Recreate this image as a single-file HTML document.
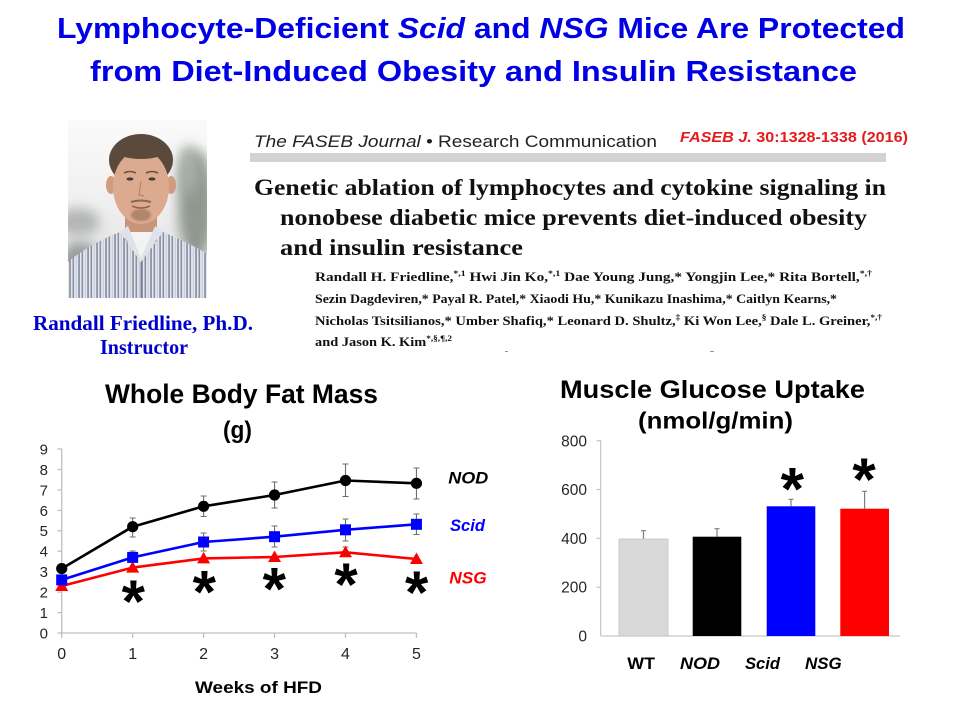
<!DOCTYPE html>
<html>
<head>
<meta charset="utf-8">
<style>
  html,body{margin:0;padding:0;background:#fff;}
  body{width:960px;height:720px;overflow:hidden;}
  svg{display:block;}
  .sans{font-family:"Liberation Sans",Arial,sans-serif;}
  .serif{font-family:"Liberation Serif","Times New Roman",serif;}
</style>
</head>
<body>
<svg width="960" height="720" viewBox="0 0 960 720" xmlns="http://www.w3.org/2000/svg">
  <defs>
    <clipPath id="photoClip"><rect x="68" y="120" width="139" height="178"/></clipPath>
    <filter id="blur6" x="-50%" y="-50%" width="200%" height="200%"><feGaussianBlur stdDeviation="6"/></filter>
    <filter id="blur1" x="-20%" y="-20%" width="140%" height="140%"><feGaussianBlur stdDeviation="1"/></filter>
    <pattern id="stripes" width="9" height="10" patternUnits="userSpaceOnUse">
      <rect width="9" height="10" fill="#e4e6ec"/>
      <rect x="0.5" width="1.6" height="10" fill="#8a91a6"/>
      <rect x="3.8" width="1" height="10" fill="#c3c8d6"/>
      <rect x="6.4" width="1.3" height="10" fill="#6d7690"/>
    </pattern>
    <linearGradient id="bgGrad" x1="0" y1="0" x2="0" y2="1">
      <stop offset="0" stop-color="#fafafa"/>
      <stop offset="0.5" stop-color="#efefef"/>
      <stop offset="1" stop-color="#d8d8d8"/>
    </linearGradient>
  </defs>

  <rect width="960" height="720" fill="#fff"/>

  <!-- Main title -->
  <g class="sans" font-weight="bold" fill="#0000e6" font-size="29">
    <text x="57" y="38" textLength="848" lengthAdjust="spacingAndGlyphs">Lymphocyte-Deficient <tspan font-style="italic">Scid</tspan> and <tspan font-style="italic">NSG</tspan> Mice Are Protected</text>
    <text x="90" y="81" textLength="767" lengthAdjust="spacingAndGlyphs">from Diet-Induced Obesity and Insulin Resistance</text>
  </g>

  <!-- Photo -->
  <g clip-path="url(#photoClip)">
    <rect x="68" y="120" width="139" height="178" fill="url(#bgGrad)"/>
    <ellipse cx="78" cy="222" rx="22" ry="14" fill="#b4b6b6" filter="url(#blur6)"/>
    <ellipse cx="196" cy="205" rx="18" ry="55" fill="#8f978f" filter="url(#blur6)"/>
    <ellipse cx="188" cy="170" rx="10" ry="25" fill="#a7ada7" filter="url(#blur6)"/>
    <ellipse cx="80" cy="262" rx="20" ry="20" fill="#9a9c9c" filter="url(#blur6)"/>
    <!-- neck -->
    <rect x="125" y="198" width="32" height="44" fill="#c8957a"/>
    <!-- hair -->
    <ellipse cx="141" cy="160" rx="32" ry="26" fill="#5b4a3c"/>
    <!-- ears -->
    <ellipse cx="111" cy="185" rx="5" ry="9" fill="#cf9c80"/>
    <ellipse cx="171" cy="185" rx="5" ry="9" fill="#cf9c80"/>
    <!-- face -->
    <ellipse cx="141" cy="187" rx="28" ry="37" fill="#dcab8f"/>
    <ellipse cx="141" cy="151" rx="25" ry="8" fill="#5b4a3c"/>
    <!-- features -->
    <path d="M124,173 Q130,170 136,173" stroke="#6a5242" stroke-width="1.6" fill="none"/>
    <path d="M146,173 Q152,170 158,173" stroke="#6a5242" stroke-width="1.6" fill="none"/>
    <ellipse cx="130" cy="179" rx="3.5" ry="1.6" fill="#4a3a30"/>
    <ellipse cx="152" cy="179" rx="3.5" ry="1.6" fill="#4a3a30"/>
    <path d="M141,181 L139,195 L144,196" stroke="#b88468" stroke-width="1.2" fill="none"/>
    <path d="M131,202 Q141,199 151,202" stroke="#8a6552" stroke-width="2" fill="none"/>
    <path d="M132,206 Q141,210 150,206" stroke="#9b5c50" stroke-width="1.6" fill="none"/>
    <ellipse cx="141" cy="215" rx="10" ry="6" fill="#9c7560" opacity="0.7" filter="url(#blur1)"/>
    <!-- shirt -->
    <path d="M68,298 L68,262 C82,250 100,240 120,232 L141,262 L163,232 C182,240 198,248 207,254 L207,298 Z" fill="url(#stripes)"/>
    <path d="M127,232 L141,258 L155,232 Z" fill="#f3f3f1"/>
    <path d="M120,232 L128,226 L141,258 Z" fill="#dfe2ea"/>
    <path d="M163,232 L155,226 L141,258 Z" fill="#dfe2ea"/>
    <line x1="141" y1="262" x2="141" y2="298" stroke="#7c849a" stroke-width="1"/>
  </g>

  <!-- Name -->
  <g class="serif" font-weight="bold" fill="#0000cc" font-size="21">
    <text x="33" y="330" textLength="220" lengthAdjust="spacingAndGlyphs">Randall Friedline, Ph.D.</text>
    <text x="100" y="354" textLength="88" lengthAdjust="spacingAndGlyphs">Instructor</text>
  </g>

  <!-- Journal header -->
  <text class="sans" x="254" y="147" font-size="17" fill="#222" textLength="403" lengthAdjust="spacingAndGlyphs"><tspan font-style="italic">The FASEB Journal</tspan>  •  Research Communication</text>
  <text class="sans" x="680" y="142" font-size="15" font-weight="bold" fill="#e41b1b" textLength="228" lengthAdjust="spacingAndGlyphs"><tspan font-style="italic">FASEB J.</tspan> 30:1328-1338 (2016)</text>
  <rect x="250" y="153" width="636" height="9" fill="#d3d3d3"/>

  <!-- Article title -->
  <g class="serif" font-weight="bold" fill="#111" font-size="23">
    <text x="254" y="195" textLength="632" lengthAdjust="spacingAndGlyphs">Genetic ablation of lymphocytes and cytokine signaling in</text>
    <text x="280" y="225" textLength="587" lengthAdjust="spacingAndGlyphs">nonobese diabetic mice prevents diet-induced obesity</text>
    <text x="280" y="255" textLength="243" lengthAdjust="spacingAndGlyphs">and insulin resistance</text>
  </g>

  <!-- Authors -->
  <g class="serif" font-weight="bold" fill="#111" font-size="12.5">
    <text x="315" y="281" textLength="557" lengthAdjust="spacingAndGlyphs">Randall H. Friedline,<tspan font-size="8" dy="-5">*,1</tspan><tspan dy="5"> Hwi Jin Ko,</tspan><tspan font-size="8" dy="-5">*,1</tspan><tspan dy="5"> Dae Young Jung,* Yongjin Lee,* Rita Bortell,</tspan><tspan font-size="8" dy="-5">*,†</tspan></text>
    <text x="315" y="303" textLength="522" lengthAdjust="spacingAndGlyphs">Sezin Dagdeviren,* Payal R. Patel,* Xiaodi Hu,* Kunikazu Inashima,* Caitlyn Kearns,*</text>
    <text x="315" y="325" textLength="567" lengthAdjust="spacingAndGlyphs">Nicholas Tsitsilianos,* Umber Shafiq,* Leonard D. Shultz,<tspan font-size="8" dy="-5">‡</tspan><tspan dy="5"> Ki Won Lee,</tspan><tspan font-size="8" dy="-5">§</tspan><tspan dy="5"> Dale L. Greiner,</tspan><tspan font-size="8" dy="-5">*,†</tspan></text>
    <text x="315" y="346" textLength="137" lengthAdjust="spacingAndGlyphs">and Jason K. Kim<tspan font-size="8" dy="-5">*,§,¶,2</tspan></text>
  </g>
  <rect x="505" y="351" width="3" height="1" fill="#999"/>
  <rect x="710" y="351" width="4" height="1" fill="#999"/>

  <!-- ============ LEFT CHART ============ -->
  <g class="sans" font-weight="bold" fill="#000">
    <text x="105" y="403" font-size="26.5" textLength="273" lengthAdjust="spacingAndGlyphs">Whole Body Fat Mass</text>
    <text x="223" y="438" font-size="24" textLength="29" lengthAdjust="spacingAndGlyphs">(g)</text>
  </g>

  <!-- axes -->
  <g stroke="#bfbfbf" stroke-width="1.3" fill="none">
    <line x1="61.7" y1="448.5" x2="61.7" y2="633"/>
    <line x1="61.7" y1="633" x2="416.5" y2="633"/>
    <line x1="57.5" y1="449" x2="61.7" y2="449"/>
    <line x1="57.5" y1="469.5" x2="61.7" y2="469.5"/>
    <line x1="57.5" y1="489.9" x2="61.7" y2="489.9"/>
    <line x1="57.5" y1="510.4" x2="61.7" y2="510.4"/>
    <line x1="57.5" y1="530.8" x2="61.7" y2="530.8"/>
    <line x1="57.5" y1="551.2" x2="61.7" y2="551.2"/>
    <line x1="57.5" y1="571.7" x2="61.7" y2="571.7"/>
    <line x1="57.5" y1="592.1" x2="61.7" y2="592.1"/>
    <line x1="57.5" y1="612.6" x2="61.7" y2="612.6"/>
    <line x1="57.5" y1="633" x2="61.7" y2="633"/>
    <line x1="61.7" y1="633" x2="61.7" y2="638"/>
    <line x1="132.65" y1="633" x2="132.65" y2="638"/>
    <line x1="203.6" y1="633" x2="203.6" y2="638"/>
    <line x1="274.55" y1="633" x2="274.55" y2="638"/>
    <line x1="345.5" y1="633" x2="345.5" y2="638"/>
    <line x1="416.45" y1="633" x2="416.45" y2="638"/>
  </g>
  <g class="sans" font-size="15" fill="#262626" text-anchor="end">
    <text x="48" y="454.4">9</text>
    <text x="48" y="474.9">8</text>
    <text x="48" y="495.3">7</text>
    <text x="48" y="515.8">6</text>
    <text x="48" y="536.2">5</text>
    <text x="48" y="556.6">4</text>
    <text x="48" y="577.1">3</text>
    <text x="48" y="597.5">2</text>
    <text x="48" y="618.0">1</text>
    <text x="48" y="638.4">0</text>
  </g>
  <g class="sans" font-size="16" fill="#262626" text-anchor="middle">
    <text x="61.7" y="659">0</text>
    <text x="132.65" y="659">1</text>
    <text x="203.6" y="659">2</text>
    <text x="274.55" y="659">3</text>
    <text x="345.5" y="659">4</text>
    <text x="416.45" y="659">5</text>
  </g>
  <text class="sans" x="195" y="693" font-size="17" font-weight="bold" fill="#000" textLength="127" lengthAdjust="spacingAndGlyphs">Weeks of HFD</text>

  <!-- error bars -->
  <g stroke="#6e6e6e" stroke-width="1.1" fill="none">
    <path d="M61.7,564 V573 M58.7,564 H64.7 M58.7,573 H64.7"/>
    <path d="M132.65,518 V537 M129.65,518 H135.65 M129.65,537 H135.65"/>
    <path d="M203.6,496 V516.5 M200.6,496 H206.6 M200.6,516.5 H206.6"/>
    <path d="M274.55,482 V508 M271.55,482 H277.55 M271.55,508 H277.55"/>
    <path d="M345.5,464 V496.5 M342.5,464 H348.5 M342.5,496.5 H348.5"/>
    <path d="M416.45,468 V499 M413.45,468 H419.45 M413.45,499 H419.45"/>
    <path d="M132.65,551 V563 M129.65,551 H135.65"/>
    <path d="M203.6,533 V551 M200.6,533 H206.6 M200.6,551 H206.6"/>
    <path d="M274.55,526 V547 M271.55,526 H277.55 M271.55,547 H277.55"/>
    <path d="M345.5,519 V541 M342.5,519 H348.5 M342.5,541 H348.5"/>
    <path d="M416.45,514 V534.5 M413.45,514 H419.45 M413.45,534.5 H419.45"/>
    <path d="M345.5,547 V557 M342.5,547 H348.5"/>
  </g>

  <!-- lines -->
  <g fill="none" stroke-width="2.6" stroke-linejoin="round">
    <polyline stroke="#000" points="61.7,568.6 132.65,526.7 203.6,506.3 274.55,495 345.5,480.5 416.45,483.3"/>
    <polyline stroke="#0000ff" points="61.7,579.9 132.65,557.4 203.6,542 274.55,536.7 345.5,529.8 416.45,524.3"/>
    <polyline stroke="#ff0000" points="61.7,586 132.65,567.6 203.6,558.4 274.55,557 345.5,552.3 416.45,559"/>
  </g>
  <!-- markers -->
  <g fill="#ff0000">
    <polygon points="61.7,579.5 55.2,591 68.2,591"/>
    <polygon points="132.65,561.1 126.15,572.6 139.15,572.6"/>
    <polygon points="203.6,551.9 197.1,563.4 210.1,563.4"/>
    <polygon points="274.55,550.5 268.05,562 281.05,562"/>
    <polygon points="345.5,545.8 339,557.3 352,557.3"/>
    <polygon points="416.45,552.5 409.95,564 422.95,564"/>
  </g>
  <g fill="#0000ff">
    <rect x="56.2" y="574.4" width="11" height="11"/>
    <rect x="127.15" y="551.9" width="11" height="11"/>
    <rect x="198.1" y="536.5" width="11" height="11"/>
    <rect x="269.05" y="531.2" width="11" height="11"/>
    <rect x="340" y="524.3" width="11" height="11"/>
    <rect x="410.95" y="518.8" width="11" height="11"/>
  </g>
  <g fill="#000">
    <circle cx="61.7" cy="568.6" r="5.6"/>
    <circle cx="132.65" cy="526.7" r="5.6"/>
    <circle cx="203.6" cy="506.3" r="5.6"/>
    <circle cx="274.55" cy="495" r="5.6"/>
    <circle cx="345.5" cy="480.5" r="5.6"/>
    <circle cx="416.45" cy="483.3" r="5.6"/>
  </g>

  <!-- significance asterisks (left) -->
  <g class="sans" font-weight="bold" font-size="60" fill="#000" text-anchor="middle">
    <text x="133.3" y="622">*</text>
    <text x="204.3" y="612.5">*</text>
    <text x="274.3" y="609.5">*</text>
    <text x="346" y="605">*</text>
    <text x="416.7" y="613">*</text>
  </g>

  <!-- legend labels -->
  <g class="sans" font-weight="bold" font-style="italic" font-size="16.5">
    <text x="448.3" y="483.5" fill="#000" textLength="40" lengthAdjust="spacingAndGlyphs">NOD</text>
    <text x="450" y="531" fill="#0000ff" textLength="35" lengthAdjust="spacingAndGlyphs">Scid</text>
    <text x="449.3" y="583.3" fill="#ff0000" textLength="37.4" lengthAdjust="spacingAndGlyphs">NSG</text>
  </g>

  <!-- ============ RIGHT CHART ============ -->
  <g class="sans" font-weight="bold" fill="#000">
    <text x="560" y="398" font-size="25" textLength="305" lengthAdjust="spacingAndGlyphs">Muscle Glucose Uptake</text>
    <text x="638" y="428.5" font-size="23" textLength="155" lengthAdjust="spacingAndGlyphs">(nmol/g/min)</text>
  </g>
  <g stroke="#c8c8c8" stroke-width="1.3" fill="none">
    <line x1="600.7" y1="440.3" x2="600.7" y2="636"/>
    <line x1="600.7" y1="636" x2="900" y2="636"/>
    <line x1="596.5" y1="440.7" x2="600.7" y2="440.7"/>
    <line x1="596.5" y1="489.5" x2="600.7" y2="489.5"/>
    <line x1="596.5" y1="538.3" x2="600.7" y2="538.3"/>
    <line x1="596.5" y1="587.2" x2="600.7" y2="587.2"/>
  </g>
  <g class="sans" font-size="15.5" fill="#262626" text-anchor="end">
    <text x="587" y="446.3">800</text>
    <text x="587" y="495">600</text>
    <text x="587" y="543.8">400</text>
    <text x="587" y="592.7">200</text>
    <text x="587" y="641.5">0</text>
  </g>

  <!-- error bars (right) -->
  <g stroke="#7f7f7f" stroke-width="1.2" fill="none">
    <path d="M643.5,539 V530.7 M641,530.7 H646"/>
    <path d="M717,536.7 V528.7 M714.5,528.7 H719.5"/>
    <path d="M791,506.3 V499.3 M788.5,499.3 H793.5"/>
    <path d="M864.6,508.7 V491.3 M862.1,491.3 H867.1"/>
  </g>
  <!-- bars -->
  <rect x="619" y="539" width="49" height="97" fill="#d9d9d9" stroke="#c4c4c4" stroke-width="0.8"/>
  <rect x="692.7" y="536.7" width="48.6" height="99.3" fill="#000"/>
  <rect x="766.7" y="506.3" width="48.6" height="129.7" fill="#0000ff"/>
  <rect x="840.3" y="508.7" width="48.7" height="127.3" fill="#ff0000"/>

  <!-- asterisks (right) -->
  <g class="sans" font-weight="bold" font-size="60" fill="#000" text-anchor="middle">
    <text x="792.3" y="509.5">*</text>
    <text x="864" y="500">*</text>
  </g>

  <!-- x labels (right) -->
  <g class="sans" font-weight="bold" font-size="17" fill="#000">
    <text x="627.3" y="669" textLength="27.7" lengthAdjust="spacingAndGlyphs">WT</text>
    <text x="680" y="669" font-style="italic" textLength="40" lengthAdjust="spacingAndGlyphs">NOD</text>
    <text x="745" y="669" font-style="italic" textLength="35" lengthAdjust="spacingAndGlyphs">Scid</text>
    <text x="805" y="669" font-style="italic" textLength="36.7" lengthAdjust="spacingAndGlyphs">NSG</text>
  </g>
</svg>
</body>
</html>
